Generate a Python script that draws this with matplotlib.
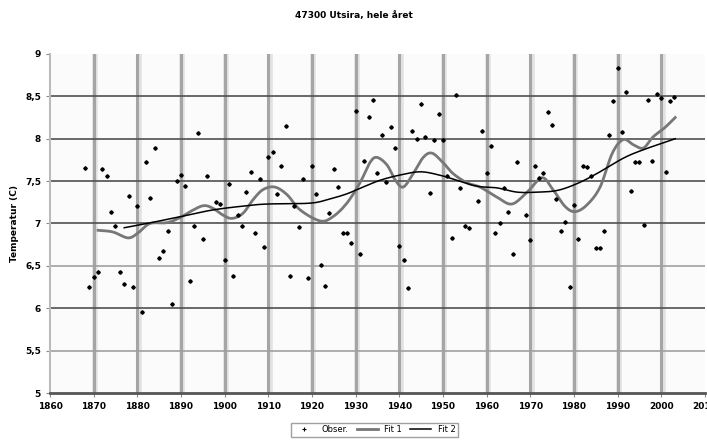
import matplotlib
matplotlib.use("Agg")
import matplotlib.pyplot as plt
import numpy as np

# observations (year, mean temperature)
obs_year = [1868, 1869, 1870, 1871, 1872, 1873, 1874, 1875, 1876, 1877, 1878, 1879,
            1880, 1881, 1882, 1883, 1884, 1885, 1886, 1887, 1888, 1889, 1890, 1891,
            1892, 1893, 1894, 1895, 1896, 1898, 1899, 1900, 1901, 1902, 1903, 1904,
            1905, 1906, 1907, 1908, 1909, 1910, 1911, 1912, 1913, 1914, 1915, 1916,
            1917, 1918, 1919, 1920, 1921, 1922, 1923, 1924, 1925, 1926, 1927, 1928,
            1929, 1930, 1931, 1932, 1933, 1934, 1935, 1936, 1937, 1938, 1939, 1940,
            1941, 1942, 1943, 1944, 1945, 1946, 1947, 1948, 1949, 1950, 1951, 1952,
            1953, 1954, 1955, 1956, 1958, 1959, 1960, 1961, 1962, 1963, 1964, 1965,
            1966, 1967, 1969, 1970, 1971, 1972, 1973, 1974, 1975, 1976, 1977, 1978,
            1979, 1980, 1981, 1982, 1983, 1984, 1985, 1986, 1987, 1988, 1989, 1990,
            1991, 1992, 1993, 1994, 1995, 1996, 1997, 1998, 1999, 2000, 2001, 2002,
            2003]
obs_temp = [7.65, 6.25, 6.37, 6.43, 7.64, 7.56, 7.14, 6.97, 6.43, 6.29, 7.32, 6.25,
            7.21, 5.96, 7.73, 7.30, 7.89, 6.59, 6.68, 6.91, 6.05, 7.50, 7.57, 7.44,
            6.32, 6.97, 8.07, 6.82, 7.56, 7.25, 7.23, 6.57, 7.47, 6.38, 7.10, 6.97,
            7.37, 7.61, 6.89, 7.53, 6.72, 7.78, 7.84, 7.35, 7.68, 8.15, 6.38, 7.21,
            6.96, 7.53, 6.36, 7.68, 7.35, 6.51, 6.26, 7.12, 7.64, 7.43, 6.89, 6.89,
            6.77, 8.33, 6.64, 7.74, 8.26, 8.46, 7.59, 8.05, 7.49, 8.14, 7.89, 6.74,
            6.57, 6.24, 8.09, 8.00, 8.41, 8.02, 7.36, 7.99, 8.29, 7.99, 7.56, 6.83,
            8.52, 7.42, 6.97, 6.95, 7.27, 8.09, 7.59, 7.91, 6.89, 7.00, 7.42, 7.14,
            6.64, 7.72, 7.10, 6.80, 7.68, 7.54, 7.59, 8.31, 8.16, 7.29, 6.91, 7.02,
            6.25, 7.22, 6.82, 7.68, 7.67, 7.56, 6.71, 6.71, 6.91, 8.04, 8.45, 8.83,
            8.08, 8.55, 7.38, 7.73, 7.72, 6.98, 8.46, 7.74, 8.53, 8.48, 7.61, 8.44,
            8.49]

# Fit 1 (short filter, gray)
fit1_year = [1871.0, 1874.4, 1877.9, 1880.2, 1882.9, 1886.8, 1889.8, 1892.1, 1895.1,
             1897.3, 1899.6, 1901.7, 1904.2, 1906.5, 1908.8, 1911.5, 1914.3, 1917.3,
             1921.9, 1924.8, 1928.0, 1931.0, 1933.3, 1934.9, 1937.2, 1939.0, 1940.9,
             1943.2, 1945.5, 1947.5, 1950.0, 1952.3, 1955.5, 1958.5, 1962.4, 1965.8,
             1969.3, 1972.7, 1975.2, 1978.0, 1980.3, 1983.0, 1986.0, 1988.8, 1991.3,
             1993.6, 1995.9, 1998.1, 2000.8, 2003.2]
fit1_temp = [6.92, 6.90, 6.83, 6.89, 7.00, 7.01, 7.07, 7.14, 7.21,
             7.18, 7.10, 7.06, 7.12, 7.28, 7.40, 7.43, 7.34, 7.16,
             7.03, 7.08, 7.24, 7.48, 7.72, 7.78, 7.69, 7.52, 7.43,
             7.59, 7.78, 7.83, 7.72, 7.59, 7.48, 7.43, 7.31, 7.23,
             7.37, 7.54, 7.40, 7.20, 7.14, 7.22, 7.43, 7.83, 7.99,
             7.93, 7.89, 8.02, 8.13, 8.25]

# Fit 2 (long filter, black)
fit2_year = [1877.0, 1882.2, 1889.8, 1897.3, 1905.1, 1909.9, 1919.6, 1924.1, 1928.0,
             1931.7, 1935.6, 1940.0, 1944.8, 1949.3, 1953.2, 1957.8, 1962.4, 1967.0,
             1971.6, 1976.2, 1980.7, 1985.3, 1991.3, 1995.9, 2003.2]
fit2_temp = [6.95, 7.00, 7.08, 7.16, 7.21, 7.23, 7.24, 7.29, 7.35,
             7.43, 7.51, 7.57, 7.61, 7.57, 7.51, 7.44, 7.42, 7.37,
             7.37, 7.39, 7.47, 7.59, 7.77, 7.87, 8.00]


def smooth(xs, ys, n=12):
    # catmull-rom through the read points, just to draw a rounder curve
    x = np.asarray(xs, float)
    y = np.asarray(ys, float)
    px = np.concatenate([[2 * x[0] - x[1]], x, [2 * x[-1] - x[-2]]])
    py = np.concatenate([[2 * y[0] - y[1]], y, [2 * y[-1] - y[-2]]])
    ox, oy = [], []
    t = np.linspace(0, 1, n, endpoint=False)
    for i in range(1, len(px) - 2):
        for arr, out in ((px, ox), (py, oy)):
            p0, p1, p2, p3 = arr[i - 1], arr[i], arr[i + 1], arr[i + 2]
            out.extend(0.5 * (2 * p1 + (-p0 + p2) * t
                              + (2 * p0 - 5 * p1 + 4 * p2 - p3) * t ** 2
                              + (-p0 + 3 * p1 - 3 * p2 + p3) * t ** 3))
    ox.append(x[-1])
    oy.append(y[-1])
    return ox, oy


fig = plt.figure(figsize=(7.07, 4.41), dpi=100)
ax = fig.add_axes([0.0707, 0.1088, 0.9263, 0.7688])
ax.set_facecolor('#fbfbfb')

# grid
for x in range(1870, 2010, 10):
    ax.axvline(x + 0.35, color='#e2e2e2', lw=4.0, zorder=0)
    ax.axvline(x, color='#a5a5a5', lw=2.2, zorder=0)
for y in np.arange(5.5, 9.0, 0.5):
    c = '#a0a0a0' if y in (5.5, 6.5) else '#505050'
    ax.axhline(y, color=c, lw=1.2, zorder=0)

ax.plot(obs_year, obs_temp, ls='none', marker='+', ms=3.2, mew=0.8, color='black',
        label='Obser.', zorder=3)
ax.plot(obs_year, obs_temp, ls='none', marker='o', ms=2.0, color='black', zorder=3)
sx, sy = smooth(fit1_year, fit1_temp)
ax.plot(sx, sy, color='#777777', lw=2.0, label='Fit 1', zorder=2)
sx, sy = smooth(fit2_year, fit2_temp)
ax.plot(sx, sy, color='black', lw=1.1, label='Fit 2', zorder=2)

ax.set_xlim(1860, 2010)
ax.set_ylim(5, 9)
ax.set_xticks(range(1860, 2011, 10))
ax.set_yticks(np.arange(5, 9.01, 0.5))
ax.set_yticklabels(['5', '5,5', '6', '6,5', '7', '7,5', '8', '8,5', '9'])
ax.tick_params(labelsize=6.5, length=3, color='#888888')
for lbl in ax.get_xticklabels() + ax.get_yticklabels():
    lbl.set_fontweight('bold')

for s in ('top', 'right'):
    ax.spines[s].set_visible(False)
ax.spines['left'].set_color('#bbbbbb')
ax.spines['left'].set_linewidth(1.5)
ax.spines['bottom'].set_color('#555555')
ax.spines['bottom'].set_linewidth(2.0)

ax.set_ylabel('Temperatur (C)', fontsize=6.5, fontweight='bold')
ax.yaxis.set_label_coords(-0.048, 0.5)
fig.text(0.5, 0.965, '47300 Utsira, hele året', ha='center', va='center',
         fontsize=6.5, fontweight='bold')

fig.legend(loc='lower center', bbox_to_anchor=(0.53, 0.0), ncol=3, fontsize=6,
           frameon=True, fancybox=False, edgecolor='#888888', handlelength=2.5,
           columnspacing=1.0, borderpad=0.3)

fig.savefig('out.png', dpi=100)
